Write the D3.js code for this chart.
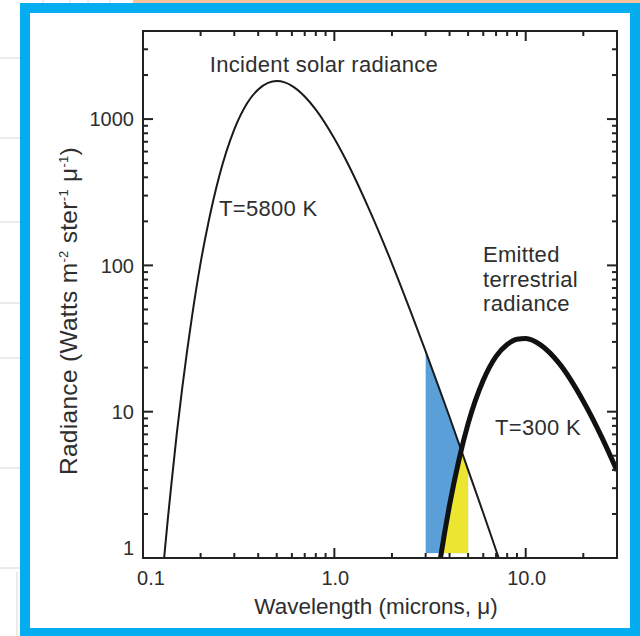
<!DOCTYPE html>
<html>
<head>
<meta charset="utf-8">
<script src="https://cdn.jsdelivr.net/npm/d3@7/dist/d3.min.js"></script>
<style>
  html, body { margin: 0; padding: 0; background: #ffffff; }
  svg { display: block; }
  text { font-family: "Liberation Sans", Arial, Helvetica, sans-serif; fill: #2e2e2e; }
</style>
</head>
<body>
<div id="chart"></div>
<script>
// Blackbody radiance curves: wavelength (microns) and radiance (W m-2 ster-1 micron-1)
const solarWavelength = [0.125, 0.13, 0.135, 0.14, 0.15, 0.16, 0.17, 0.18, 0.2, 0.22, 0.25, 0.3, 0.35, 0.4, 0.45, 0.5, 0.55, 0.6, 0.7, 0.8, 1.0, 1.2, 1.5, 2.0, 2.5, 3.0, 3.5, 4.0, 5.0, 6.0, 7.0, 7.5];
const solarRadiance   = [0.64, 1.12, 1.88, 3.0, 7.0, 14.2, 26, 44, 104, 198, 405, 850, 1283, 1595, 1770, 1820, 1782, 1688, 1428, 1160, 736, 470, 251, 103, 48.7, 25.8, 14.9, 9.2, 4.0, 2.03, 1.13, 0.87];

const earthWavelength = [3.4, 3.6, 4.0, 4.5, 5.0, 6.0, 7.0, 8.0, 9.0, 10.0, 12.0, 15.0, 20.0, 25.0, 30.0];
const earthRadiance   = [0.62, 1.03, 2.3, 4.82, 8.28, 16.4, 23.9, 28.8, 31.3, 31.6, 28.5, 21.3, 11.8, 6.68, 3.95];

// Shaded wavelength band (microns)
const bandStart = 3.0;
const bandEnd = 5.0;

const xMajorTicks = [0.1, 1, 10];
const xTickLabels = ["0.1", "1.0", "10.0"];
const yMajorTicks = [1, 10, 100, 1000];
const yTickLabels = ["1", "10", "100", "1000"];

const annotations = [
  { lines: ["Incident solar radiance"], x: 324, y: 72, anchor: "middle" },
  { lines: ["T=5800 K"], x: 219, y: 216, anchor: "start" },
  { lines: ["Emitted", "terrestrial", "radiance"], x: 483, y: 262, anchor: "start" },
  { lines: ["T=300 K"], x: 495, y: 435, anchor: "start" }
];

const W = 640, H = 636;
const plot = { left: 143, right: 617, top: 31, bottom: 558 };

const svg = d3.select("#chart").append("svg").attr("width", W).attr("height", H);

// page surroundings and frame
const bg = svg.append("g");
bg.append("rect").attr("x", 133).attr("y", 0).attr("width", W - 133).attr("height", 4).attr("fill", "#f6c39b");
[58, 138, 222, 303, 358, 468, 568].forEach(y => {
  bg.append("line").attr("x1", 0).attr("x2", 20).attr("y1", y).attr("y2", y).attr("stroke", "#d6d6d6").attr("stroke-width", 1);
});
[43, 70, 88, 110].forEach(x => {
  bg.append("line").attr("x1", x).attr("x2", x).attr("y1", 0).attr("y2", 4).attr("stroke", "#d6d6d6").attr("stroke-width", 1);
});
bg.append("line").attr("x1", 17).attr("x2", 17).attr("y1", 572).attr("y2", H).attr("stroke", "#d6d6d6");
bg.append("rect").attr("x", 20).attr("y", 3).attr("width", W - 20).attr("height", H - 3).attr("fill", "#03adef");
bg.append("rect").attr("x", 30).attr("y", 13).attr("width", 600).attr("height", 615).attr("fill", "#ffffff");

const x = d3.scaleLog().domain([0.1, 30]).range([plot.left, plot.right]);
const y = d3.scaleLog().domain([1, 4000]).range([plot.bottom, plot.top]);

const solar = solarWavelength.map((w, i) => ({ w, r: solarRadiance[i] }));
const earth = earthWavelength.map((w, i) => ({ w, r: earthRadiance[i] }));

const defs = svg.append("defs");
defs.append("clipPath").attr("id", "plotClip").append("rect")
  .attr("x", plot.left).attr("y", plot.top)
  .attr("width", plot.right - plot.left).attr("height", plot.bottom - plot.top);

const line = d3.line().x(d => x(d.w)).y(d => y(d.r)).curve(d3.curveMonotoneX);
const area = d3.area().x(d => x(d.w)).y0(plot.bottom).y1(d => y(d.r)).curve(d3.curveMonotoneX);

defs.append("clipPath").attr("id", "underSolar").append("path").attr("d", area(solar));
defs.append("clipPath").attr("id", "underEarth").append("path").attr("d", area(earth));

const fillFloor = y(1.08);
const body = svg.append("g").attr("clip-path", "url(#plotClip)");

// blue: band region below the solar curve
const solarBand = body.append("g").attr("clip-path", "url(#underSolar)");
solarBand.append("rect")
  .attr("x", x(bandStart)).attr("width", x(bandEnd) - x(bandStart))
  .attr("y", plot.top).attr("height", fillFloor - plot.top)
  .attr("fill", "#5b9fd8");
// yellow: part of the band below both curves
solarBand.append("g").attr("clip-path", "url(#underEarth)").append("rect")
  .attr("x", x(bandStart)).attr("width", x(bandEnd) - x(bandStart))
  .attr("y", plot.top).attr("height", fillFloor - plot.top)
  .attr("fill", "#ece631");

body.append("path").attr("d", line(solar)).attr("fill", "none")
  .attr("stroke", "#1a1a1a").attr("stroke-width", 2);
body.append("path").attr("d", line(earth)).attr("fill", "none")
  .attr("stroke", "#111111").attr("stroke-width", 5);

// axes box with inward ticks on all four sides
const axes = svg.append("g");
const isMajor = v => Math.abs(Math.log10(v) - Math.round(Math.log10(v))) < 1e-9;
const major = 10, minor = 5;
x.ticks().forEach(v => {
  const px = x(v), len = isMajor(v) ? major : minor;
  axes.append("line").attr("x1", px).attr("x2", px).attr("y1", plot.bottom).attr("y2", plot.bottom - len);
  axes.append("line").attr("x1", px).attr("x2", px).attr("y1", plot.top).attr("y2", plot.top + len);
});
y.ticks().forEach(v => {
  const py = y(v), len = isMajor(v) ? major : minor;
  axes.append("line").attr("x1", plot.left).attr("x2", plot.left + len).attr("y1", py).attr("y2", py);
  axes.append("line").attr("x1", plot.right).attr("x2", plot.right - len).attr("y1", py).attr("y2", py);
});
axes.selectAll("line").attr("stroke", "#222").attr("stroke-width", 2);
axes.append("rect").attr("x", plot.left).attr("y", plot.top)
  .attr("width", plot.right - plot.left).attr("height", plot.bottom - plot.top)
  .attr("fill", "none").attr("stroke", "#222").attr("stroke-width", 2);

// tick labels
xMajorTicks.forEach((v, i) => {
  svg.append("text").attr("x", x(v) + (i === 0 ? 8 : 1)).attr("y", 585)
    .attr("text-anchor", "middle").attr("font-size", 20).text(xTickLabels[i]);
});
yMajorTicks.forEach((v, i) => {
  svg.append("text").attr("x", 134).attr("y", y(v) + (i === 0 ? -10 : 0)).attr("dy", "0.36em")
    .attr("text-anchor", "end").attr("font-size", 20).text(yTickLabels[i]);
});

// axis titles
svg.append("text").attr("x", 376).attr("y", 614).attr("text-anchor", "middle")
  .attr("font-size", 22.5).text("Wavelength (microns, \u03bc)");

const yTitle = svg.append("text").attr("transform", "translate(77,311) rotate(-90)")
  .attr("text-anchor", "middle").attr("font-size", 24.5).attr("letter-spacing", 0.3);
yTitle.append("tspan").text("Radiance (Watts m");
yTitle.append("tspan").attr("dy", -9).attr("font-size", 13).text("-2");
yTitle.append("tspan").attr("dy", 9).text(" ster");
yTitle.append("tspan").attr("dy", -9).attr("font-size", 13).text("-1");
yTitle.append("tspan").attr("dy", 9).text(" \u03bc");
yTitle.append("tspan").attr("dy", -9).attr("font-size", 13).text("-1");
yTitle.append("tspan").attr("dy", 9).text(")");

// curve annotations
annotations.forEach(a => {
  const t = svg.append("text").attr("text-anchor", a.anchor).attr("font-size", 22)
    .attr("letter-spacing", 0.3);
  a.lines.forEach((s, i) => {
    t.append("tspan").attr("x", a.x).attr("y", a.y + i * 24.5).text(s);
  });
});
</script>
</body>
</html>
